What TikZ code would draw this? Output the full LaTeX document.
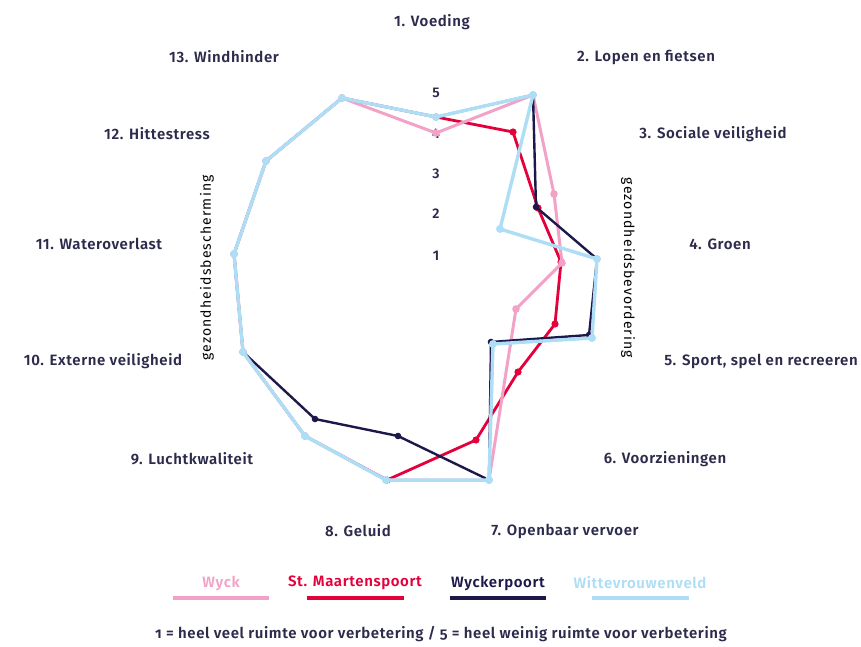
\documentclass[tikz,border=0pt]{standalone}
\usepackage{fontspec}
\setmainfont{Fira Sans}[BoldFont={Fira Sans SemiBold}]
\newfontfamily\labelfont{Fira Sans SemiBold}[LetterSpace=4]
\newfontfamily\notefont{Fira Sans SemiBold}[LetterSpace=4,Numbers=OldStyle]
\newfontfamily\sidefont{Fira Sans}[LetterSpace=8]
\definecolor{wyck}{HTML}{F2A2C6}
\definecolor{maarten}{HTML}{E3003B}
\definecolor{wyckerpoort}{HTML}{1C184A}
\definecolor{witte}{HTML}{AEDDF6}
\definecolor{labeltext}{HTML}{2D2B4C}
\tikzset{
  axislabel/.style={font=\labelfont\fontsize{15}{17}\selectfont, text=labeltext, inner sep=0pt},
  scalelabel/.style={font=\labelfont\fontsize{14}{16}\selectfont, text=labeltext, inner sep=0pt},
  sidelabel/.style={font=\sidefont\fontsize{14}{16}\selectfont, text=black, inner sep=0pt},
  legendtext/.style={font=\labelfont\fontsize{15}{17}\selectfont, inner sep=0pt},
  wyckline/.style={draw=wyck, line width=3pt, line join=round},
  maartenline/.style={draw=maarten, line width=2.8pt, line join=round},
  poortline/.style={draw=wyckerpoort, line width=2.4pt, line join=round},
  witteline/.style={draw=witte, line width=3.4pt, line join=round},
}
\begin{document}
\begin{tikzpicture}[x=1pt,y=-1pt]
    \useasboundingbox (0,0) rectangle (861,647);

    % scale
    \node[scalelabel] (s5) at (436, 93){5};
    \node[scalelabel] (s4) at (436,134){4};
    \node[scalelabel] (s3) at (436,174){3};
    \node[scalelabel] (s2) at (436,214){2};
    \node[scalelabel] (s1) at (436,256){1};

    % St. Maartenspoort
    \coordinate (sm1) at (436,117);
    \coordinate (sm2) at (513,132);
    \coordinate (sm3) at (538,208);
    \coordinate (sm4) at (561,262);
    \coordinate (sm5) at (555,324);
    \coordinate (sm6) at (518,372);
    \coordinate (sm7) at (476,440);
    \coordinate (sm8) at (387,480);
    \coordinate (sm9) at (305,436);
    \coordinate (sm10) at (243,352);
    \coordinate (sm11) at (234,254);
    \coordinate (sm12) at (266,161);
    \coordinate (sm13) at (342,98);
    \draw[maartenline] (sm1) -- (sm2) -- (sm3) -- (sm4) -- (sm5) -- (sm6) -- (sm7)
        -- (sm8) -- (sm9) -- (sm10) -- (sm11) -- (sm12) -- (sm13) -- cycle;
    \foreach \p in {sm1,sm2,sm3,sm4,sm5,sm6,sm7,sm8,sm9,sm10,sm11,sm12,sm13}
        \fill[maarten] (\p) circle (3.6);

    % Wyck
    \coordinate (wy1) at (436,133);
    \coordinate (wy2) at (533,95);
    \coordinate (wy3) at (554,194);
    \coordinate (wy4) at (562,263);
    \coordinate (wy5) at (516,309);
    \coordinate (wy7) at (489,480);
    \coordinate (wy8) at (386,480);
    \coordinate (wy9) at (305,436);
    \coordinate (wy10) at (243,352);
    \coordinate (wy11) at (234,254);
    \coordinate (wy12) at (266,161);
    \coordinate (wy13) at (342,98);
    \draw[wyckline] (wy1) -- (wy2) -- (wy3) -- (wy4) -- (wy5) -- (wy7)
        -- (wy8) -- (wy9) -- (wy10) -- (wy11) -- (wy12) -- (wy13) -- cycle;
    \foreach \p in {wy1,wy2,wy3,wy4,wy5,wy7,wy8,wy9,wy10,wy11,wy12,wy13}
        \fill[wyck] (\p) circle (3.8);

    % Wyckerpoort
    \coordinate (wp1) at (436,117);
    \coordinate (wp2) at (533,95);
    \coordinate (wp3) at (536,207);
    \coordinate (wp4) at (597,259);
    \coordinate (wp5) at (589,335);
    \coordinate (wp6) at (491,342);
    \coordinate (wp7) at (489,480);
    \coordinate (wp8) at (398,436);
    \coordinate (wp9) at (315,419);
    \coordinate (wp10) at (243,352);
    \coordinate (wp11) at (234,254);
    \coordinate (wp12) at (266,161);
    \coordinate (wp13) at (342,98);
    \draw[poortline] (wp1) -- (wp2) -- (wp3) -- (wp4) -- (wp5) -- (wp6) -- (wp7)
        -- (wp8) -- (wp9) -- (wp10) -- (wp11) -- (wp12) -- (wp13) -- cycle;
    \foreach \p in {wp1,wp2,wp3,wp4,wp5,wp6,wp7,wp8,wp9,wp10,wp11,wp12,wp13}
        \fill[wyckerpoort] (\p) circle (3.3);

    % Wittevrouwenveld
    \coordinate (wv1) at (436,117);
    \coordinate (wv2) at (533,95);
    \coordinate (wv3) at (500,229);
    \coordinate (wv4) at (597,259);
    \coordinate (wv5) at (592,338);
    \coordinate (wv6) at (493,344);
    \coordinate (wv7) at (489,480);
    \coordinate (wv8) at (386,480);
    \coordinate (wv9) at (305,436);
    \coordinate (wv10) at (243,352);
    \coordinate (wv11) at (234,254);
    \coordinate (wv12) at (266,161);
    \coordinate (wv13) at (342,98);
    \draw[witteline] (wv1) -- (wv2) -- (wv3) -- (wv4) -- (wv5) -- (wv6) -- (wv7)
        -- (wv8) -- (wv9) -- (wv10) -- (wv11) -- (wv12) -- (wv13) -- cycle;
    \foreach \p in {wv1,wv2,wv3,wv4,wv5,wv6,wv7,wv8,wv9,wv10,wv11,wv12,wv13}
        \fill[witte] (\p) circle (4);

    % axis labels
    \node[axislabel] (a1) at (432, 22){1. Voeding};
    \node[axislabel] (a2) at (646, 57){2. Lopen en fietsen};
    \node[axislabel] (a3) at (713,134){3. Sociale veiligheid};
    \node[axislabel] (a4) at (720,244){4. Groen};
    \node[axislabel] (a5) at (761,361){5. Sport, spel en recreeren};
    \node[axislabel] (a6) at (665,459){6. Voorzieningen};
    \node[axislabel] (a7) at (565,531){7. Openbaar vervoer};
    \node[axislabel] (a8) at (358,531){8. Geluid};
    \node[axislabel] (a9) at (192,459){9. Luchtkwaliteit};
    \node[axislabel] (a10) at (103,361){10. Externe veiligheid};
    \node[axislabel] (a11) at (99,244){11. Wateroverlast};
    \node[axislabel] (a12) at (157,134){12. Hittestress};
    \node[axislabel] (a13) at (224, 57){13. Windhinder};

    \node[sidelabel, rotate=90] (bescherming) at (207,268){gezondheidsbescherming};
    \node[sidelabel, rotate=-90] (bevordering) at (628,268){gezondheidsbevordering};

    % legend
    \node[legendtext, text=wyck] (lwy) at (221,583){Wyck};
    \coordinate (lwyA) at (173,598); \coordinate (lwyB) at (269,598);
    \draw[draw=wyck, line width=3.5pt] (lwyA) -- (lwyB);
    \node[legendtext, text=maarten] (lsm) at (355,583){St. Maartenspoort};
    \coordinate (lsmA) at (307,598); \coordinate (lsmB) at (404,598);
    \draw[draw=maarten, line width=3.5pt] (lsmA) -- (lsmB);
    \node[legendtext, text=wyckerpoort] (lwp) at (498,583){Wyckerpoort};
    \coordinate (lwpA) at (450,598); \coordinate (lwpB) at (546,598);
    \draw[draw=wyckerpoort, line width=3.5pt] (lwpA) -- (lwpB);
    \node[legendtext, text=witte] (lwv) at (640,583){Wittevrouwenveld};
    \coordinate (lwvA) at (592,598); \coordinate (lwvB) at (689,598);
    \draw[draw=witte, line width=3.5pt] (lwvA) -- (lwvB);

    \node[axislabel, font=\notefont\fontsize{15}{17}\selectfont]
        (note) at (441,634){1 = heel veel ruimte voor verbetering / 5 = heel weinig ruimte voor verbetering};
\end{tikzpicture}
\end{document}
